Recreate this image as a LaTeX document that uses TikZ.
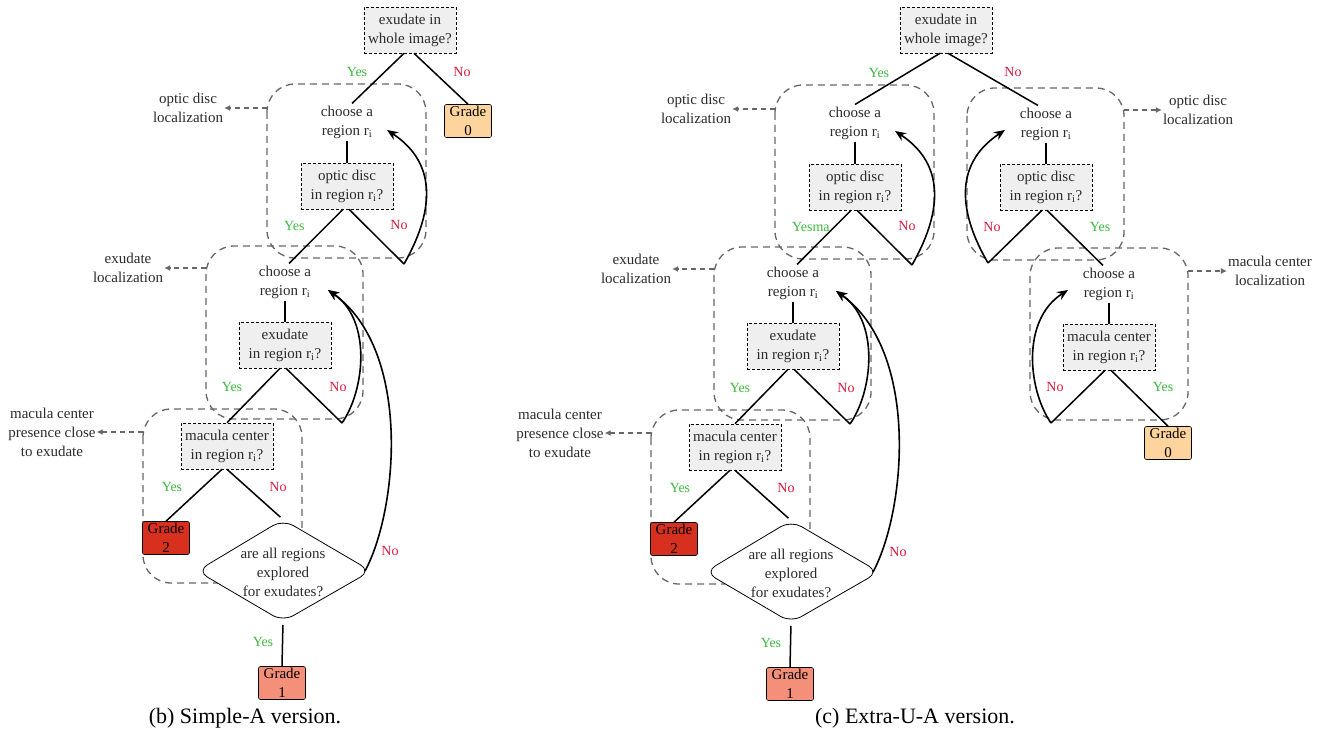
\documentclass[tikz,border=0pt]{standalone}
\usepackage{fontspec}
\setmainfont{Liberation Serif}
\usetikzlibrary{arrows.meta}
\definecolor{qfill}{HTML}{EFEFEF}
\definecolor{yesc}{HTML}{3CB93C}
\definecolor{noc}{HTML}{D7193C}
\definecolor{gzero}{HTML}{FDD49E}
\definecolor{gone}{HTML}{F4907A}
\definecolor{gtwo}{HTML}{D7301F}
\definecolor{contc}{HTML}{6B6666}
\definecolor{txtc}{HTML}{2B2B2B}
\tikzset{
  fnt/.style={font=\fontsize{15}{19}\selectfont},
  qbox/.style={draw, densely dashed, line width=0.6pt, fill=qfill, fnt, align=center, minimum width=92pt, minimum height=46pt, inner sep=2pt, text=txtc},
  ctext/.style={fnt, align=center, inner sep=2pt, text=txtc},
  sidet/.style={fnt, align=center, inner sep=1pt, text=txtc},
  grade/.style={draw, line width=0.6pt, rounded corners=2pt, fnt, align=center, minimum width=47pt, minimum height=33pt, inner sep=0pt, text=black},
  cont/.style={draw=contc, line width=1.3pt, dash pattern=on 7pt off 5pt, rounded corners=28pt},
  sarr/.style={draw=contc, line width=1.1pt, dash pattern=on 5pt off 4pt, -{Latex[length=6pt,width=6pt]}},
  lnk/.style={draw=black, line width=1.5pt},
  lp/.style={draw=black, line width=1.6pt, -{Stealth[length=11pt,width=9pt]}},
  yl/.style={font=\fontsize{14}{16}\selectfont, text=yesc, inner sep=1pt},
  nl/.style={font=\fontsize{14}{16}\selectfont, text=noc, inner sep=1pt},
  diam/.style={draw, line width=0.8pt, fill=white, rounded corners=12pt},
  pics/subtree/.style={code={
    \draw[cont] (267,84) rectangle (426,258);
    \draw[cont] (206,246) rectangle (363,419);
    \draw[cont] (143,409) rectangle (302,583);
    \coordinate (cwa) at (267,108);
    \coordinate (cwb) at (206,268);
    \coordinate (cwc) at (143,432);
    \node[sidet] (sa) at (188,108) {optic disc\\localization};
    \node[sidet] (sb) at (128,268) {exudate\\localization};
    \node[sidet] (sc) at (52,432) {macula center\\presence close\\to exudate};
    \draw[sarr] (cwa) -- (sa);
    \draw[sarr] (cwb) -- (sb);
    \draw[sarr] (cwc) -- (sc);
    \coordinate (dt) at (283,519.5);
    \coordinate (dr) at (371,571);
    \coordinate (db) at (283,621.5);
    \coordinate (dl) at (197,571);
    \draw[diam] (dt) -- (dr) -- (db) -- (dl) -- cycle;
    \node[ctext] (dq) at (283,572) {are all regions\\explored\\for exudates?};
    \node[ctext] (cha) at (347,122) {choose a\\region r\textsubscript{i}};
    \node[qbox] (qa) at (347,186) {optic disc\\in region r\textsubscript{i}?};
    \node[ctext] (chb) at (285,282) {choose a\\region r\textsubscript{i}};
    \node[qbox] (qb) at (285,345) {exudate\\in region r\textsubscript{i}?};
    \node[qbox] (qc) at (227,446) {macula center\\in region r\textsubscript{i}?};
    \node[grade, fill=gtwo] (gtw) at (166,538) {Grade\\2};
    \node[grade, fill=gone] (gon) at (282,683) {Grade\\1};
    \coordinate (va) at (404,264);
    \coordinate (aa) at (387,130);
    \coordinate (vb) at (342,423);
    \coordinate (ab) at (328,290);
    \draw[lnk] (cha.south) -- (qa.north);
    \draw[lnk] ([xshift=-4pt]qa.south) -- ([xshift=4pt]chb.north);
    \draw[lnk] ([xshift=2pt]qa.south) -- (va);
    \draw[lp] (va) .. controls (432,215) and (440,165) .. (aa);
    \draw[lnk] (chb.south) -- (qb.north);
    \draw[lnk] ([xshift=-5pt]qb.south) -- (qc.north);
    \draw[lnk] ([xshift=1pt]qb.south) -- (vb);
    \draw[lp] (vb) .. controls (365,390) and (372,320) .. (ab);
    \draw[lp] ([xshift=-6pt]dr) .. controls (398,510) and (412,350) .. (ab);
    \draw[lnk] ([xshift=-5pt]qc.south) -- (gtw.north);
    \draw[lnk, shorten >=3.5pt] (qc.south) -- (dt);
    \draw[lnk, shorten <=3.5pt] (db) -- (gon.north);
    \node[yl, anchor=west] (ya) at (283,226) {#1};
    \node[nl] (na) at (399,225) {No};
    \node[yl] (yb) at (232,387) {Yes};
    \node[nl] (nb) at (338,387) {No};
    \node[yl] (yc) at (172,487) {Yes};
    \node[nl] (nc) at (278,487) {No};
    \node[yl] (yd) at (263,642) {Yes};
    \node[nl] (nd) at (390,551) {No};
  }}
}
\begin{document}
\begin{tikzpicture}[x=1pt, y=-1pt]
\useasboundingbox (0,0) rectangle (1325,735);
% ---- left diagram (b)
\pic (L) at (0,0) {subtree=Yes};
\node[qbox] (LQz) at (410,30) {exudate in\\whole image?};
\node[grade, fill=gzero] (LGz) at (468,121) {Grade\\0};
\draw[lnk] ([xshift=-6pt]LQz.south) -- ([xshift=5pt]Lcha.north);
\draw[lnk] ([xshift=4pt]LQz.south) -- (LGz.north);
\node[yl] (LYz) at (357,72) {Yes};
\node[nl] (LNz) at (462,72) {No};
% ---- right diagram (c)
\pic (R) at (508,1) {subtree=Yesma};
\node[qbox] (RQz) at (946,30) {exudate in\\whole image?};
\draw[cont] (967,88) rectangle (1124,260);
\draw[cont] (1030,248) rectangle (1188,420);
\coordinate (Nce) at (1124,110);
\coordinate (Ncf) at (1188,271);
\node[sidet] (Nsa) at (1198,110) {optic disc\\localization};
\node[sidet] (Nsb) at (1270,271) {macula center\\localization};
\draw[sarr] (Nce) -- (Nsa);
\draw[sarr] (Ncf) -- (Nsb);
\node[ctext] (Ncha) at (1046,124) {choose a\\region r\textsubscript{i}};
\node[qbox] (Nqa) at (1046,187) {optic disc\\in region r\textsubscript{i}?};
\node[ctext] (Nchb) at (1109,284) {choose a\\region r\textsubscript{i}};
\node[qbox] (Nqb) at (1109,347) {macula center\\in region r\textsubscript{i}?};
\node[grade, fill=gzero] (Ngz) at (1168,443) {Grade\\0};
\coordinate (Nva) at (988,263);
\coordinate (Naa) at (1005,130);
\coordinate (Nvb) at (1051,423);
\coordinate (Nab) at (1068,290);
\draw[lnk] ([xshift=-6pt]RQz.south) -- (Rcha.north);
\draw[lnk] ([xshift=2pt]RQz.south) -- ([xshift=-8pt]Ncha.north);
\draw[lnk] (Ncha.south) -- (Nqa.north);
\draw[lnk] ([xshift=-4pt]Nqa.south) -- (Nva);
\draw[lnk] ([xshift=1pt]Nqa.south) -- ([xshift=-6pt]Nchb.north);
\draw[lp] (Nva) .. controls (960,215) and (952,165) .. (Naa);
\draw[lnk] (Nchb.south) -- (Nqb.north);
\draw[lnk] ([xshift=-4pt]Nqb.south) -- (Nvb);
\draw[lnk] ([xshift=2pt]Nqb.south) -- (Ngz.north);
\draw[lp] (Nvb) .. controls (1028,390) and (1021,320) .. (Nab);
\node[yl] (RYz) at (879,73) {Yes};
\node[nl] (RNz) at (1013,72) {No};
\node[nl] (Nna) at (992,227) {No};
\node[yl] (Nya) at (1100,227) {Yes};
\node[nl] (Nnb) at (1055,387) {No};
\node[yl] (Nyb) at (1163,387) {Yes};
% ---- captions
\node[font=\fontsize{22}{24}\selectfont] (capb) at (245,718) {(b) Simple-A version.};
\node[font=\fontsize{22}{24}\selectfont] (capc) at (915,718) {(c) Extra-U-A version.};
\end{tikzpicture}
\end{document}
